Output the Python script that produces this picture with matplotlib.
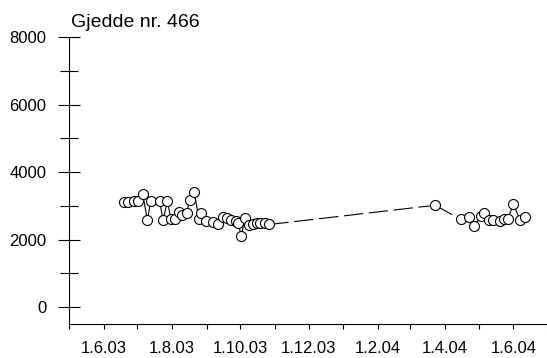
"""
Gjedde nr. 466 - time series of measured values, 2003-2004.
"""

import datetime as dt

import matplotlib
matplotlib.use("Agg")
import matplotlib.pyplot as plt
import matplotlib.dates as mdates
from matplotlib.ticker import MultipleLocator, FixedLocator

plt.rcParams["font.family"] = ["Liberation Sans", "DejaVu Sans"]
plt.rcParams["lines.scale_dashes"] = False

TITLE = "Gjedde nr. 466"

# sampling dates (d.m.y) and values
dates = [
    "19.6.03", "23.6.03", "28.6.03", "2.7.03", "6.7.03", "10.7.03", "13.7.03",
    "21.7.03", "24.7.03", "28.7.03", "31.7.03", "4.8.03", "7.8.03", "10.8.03",
    "14.8.03", "17.8.03", "21.8.03", "25.8.03", "27.8.03", "31.8.03", "7.9.03",
    "11.9.03", "16.9.03", "19.9.03", "23.9.03", "27.9.03", "29.9.03", "2.10.03",
    "5.10.03", "9.10.03", "12.10.03", "16.10.03", "19.10.03", "23.10.03",
    "27.10.03", "23.3.04", "15.4.04", "22.4.04", "27.4.04", "3.5.04", "6.5.04",
    "10.5.04", "14.5.04", "20.5.04", "24.5.04", "27.5.04", "1.6.04", "7.6.04",
    "11.6.04",
]
values = [
    3120, 3120, 3140, 3140, 3350, 2570, 3150,
    3150, 2580, 3150, 2600, 2600, 2820, 2720,
    2790, 3190, 3410, 2620, 2790, 2550, 2510,
    2450, 2660, 2630, 2590, 2540, 2490, 2110,
    2640, 2440, 2460, 2500, 2500, 2480,
    2450, 3020, 2600, 2670, 2410, 2690, 2800,
    2580, 2580, 2550, 2600, 2620, 3050, 2580,
    2670,
]

x_start = dt.date(2003, 5, 1)
x_end = dt.date(2004, 7, 1)
label_months = ["1.6.03", "1.8.03", "1.10.03", "1.12.03", "1.2.04", "1.4.04", "1.6.04"]

days = [dt.datetime.strptime(d, "%d.%m.%y").date() for d in dates]

fig = plt.figure(figsize=(5.47, 3.58), dpi=100)
ax = fig.add_axes([0.1261, 0.095, 0.8739, 0.8008])

# segments with long gaps between samples are drawn dashed
for i in range(len(days) - 1):
    gap = (days[i + 1] - days[i]).days
    style = dict(color="black", linewidth=0.8, zorder=1)
    if gap > 20:
        ax.plot(days[i:i + 2], values[i:i + 2], dashes=(14, 4), **style)
    else:
        ax.plot(days[i:i + 2], values[i:i + 2], **style)

ax.plot(days, values, linestyle="none", marker="o", markersize=7.2,
        markerfacecolor="white", markeredgecolor="black",
        markeredgewidth=0.8, zorder=2)

ax.set_xlim(x_start, x_end)
ax.set_ylim(-500, 8000)

for side in ("top", "right"):
    ax.spines[side].set_visible(False)
for side in ("left", "bottom"):
    ax.spines[side].set_linewidth(0.8)

ax.yaxis.set_major_locator(FixedLocator([0, 2000, 4000, 6000, 8000]))
ax.yaxis.set_minor_locator(FixedLocator([1000, 3000, 5000, 7000]))
ax.tick_params(axis="y", which="major", direction="inout", length=16.5,
               width=0.8, labelsize=12, pad=8)
ax.tick_params(axis="y", which="minor", direction="inout", length=13.5,
               width=0.8)

label_days = [dt.datetime.strptime(d, "%d.%m.%y").date() for d in label_months]
ax.xaxis.set_major_locator(FixedLocator(mdates.date2num(label_days)))
ax.xaxis.set_major_formatter(matplotlib.ticker.FixedFormatter(label_months))
ax.xaxis.set_minor_locator(mdates.MonthLocator())
ax.tick_params(axis="x", which="both", direction="out", length=3.3,
               width=0.8, labelsize=12, pad=9)

fig.text(0.129, 1 - 27 / 358, TITLE, fontsize=14, va="baseline", ha="left")

fig.savefig("out.png", dpi=100)
plt.close(fig)
